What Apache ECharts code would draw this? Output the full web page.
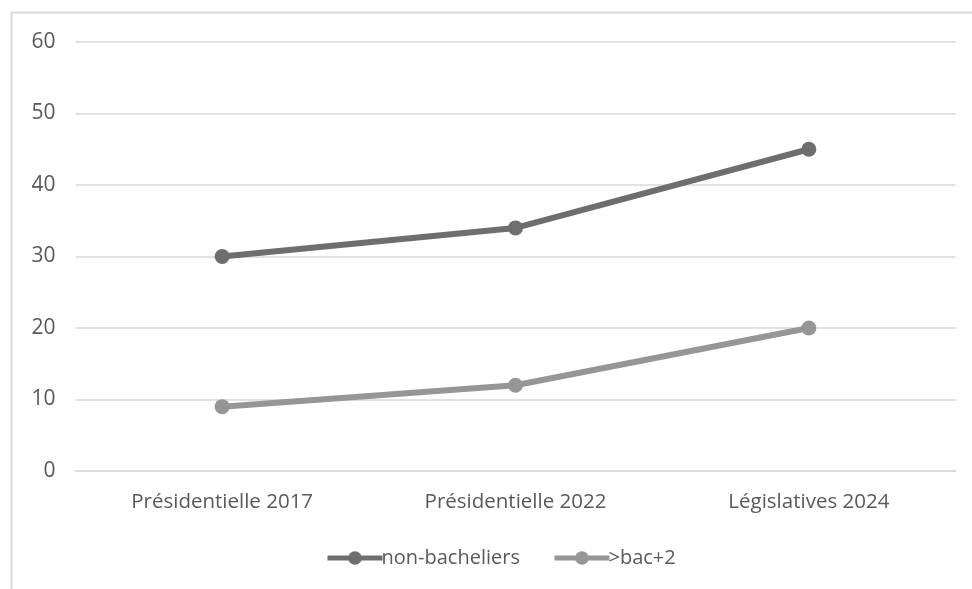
<!DOCTYPE html>
<html>
<head>
<meta charset="utf-8">
<script src="https://cdn.jsdelivr.net/npm/echarts@6/dist/echarts.min.js"></script>
<style>
  html, body { margin: 0; padding: 0; background: #ffffff; }
  #chart { width: 972px; height: 589px; }
</style>
</head>
<body>
<div id="chart"></div>
<script>
// Election categories and vote shares (%) by education level
const categories = ['Présidentielle 2017', 'Présidentielle 2022', 'Législatives 2024'];
const nonBacheliers = [30, 34, 45];
const bacPlus2 = [9, 12, 20];
const seriesNames = ['non-bacheliers', '>bac+2'];
const yTicks = { min: 0, max: 60, interval: 10 };

const FONT = '"Open Sans", "Noto Sans", sans-serif';
const chart = echarts.init(document.getElementById('chart'));

chart.setOption({
  animation: false,
  backgroundColor: '#ffffff',
  graphic: [{
    type: 'rect',
    shape: { x: 11.5, y: 12.5, width: 980, height: 600 },
    style: { fill: 'none', stroke: '#d9d9d9', lineWidth: 2 },
    silent: true,
    z: -1
  }],
  grid: { left: 75.5, right: 16.5, top: 42, bottom: 118, containLabel: false },
  legend: {
    top: 543,
    left: 320,
    itemWidth: 55,
    itemHeight: 17,
    itemGap: 32,
    lineStyle: { width: 5 },
    textStyle: { color: '#595959', fontSize: 20, fontFamily: '"Liberation Sans Narrow", "Open Sans", sans-serif', padding: [0, 0, 0, -6] },
    data: seriesNames
  },
  xAxis: {
    type: 'category',
    data: categories,
    boundaryGap: true,
    axisLine: { show: true, lineStyle: { color: '#d9d9d9', width: 1.5 } },
    axisTick: { show: false },
    axisLabel: { color: '#595959', fontSize: 20.5, fontFamily: FONT, margin: 21 }
  },
  yAxis: {
    type: 'value',
    min: yTicks.min,
    max: yTicks.max,
    interval: yTicks.interval,
    axisLine: { show: false },
    axisTick: { show: false },
    axisLabel: { color: '#595959', fontSize: 21, fontFamily: FONT, margin: 20 },
    splitLine: { lineStyle: { color: '#d9d9d9', width: 1.5 } }
  },
  series: [
    {
      name: seriesNames[0],
      type: 'line',
      data: nonBacheliers,
      symbol: 'circle',
      symbolSize: 15,
      lineStyle: { color: '#6e6e6e', width: 6 },
      itemStyle: { color: '#6e6e6e' }
    },
    {
      name: seriesNames[1],
      type: 'line',
      data: bacPlus2,
      symbol: 'circle',
      symbolSize: 15,
      lineStyle: { color: '#969696', width: 6 },
      itemStyle: { color: '#969696' }
    }
  ]
});
</script>
</body>
</html>
